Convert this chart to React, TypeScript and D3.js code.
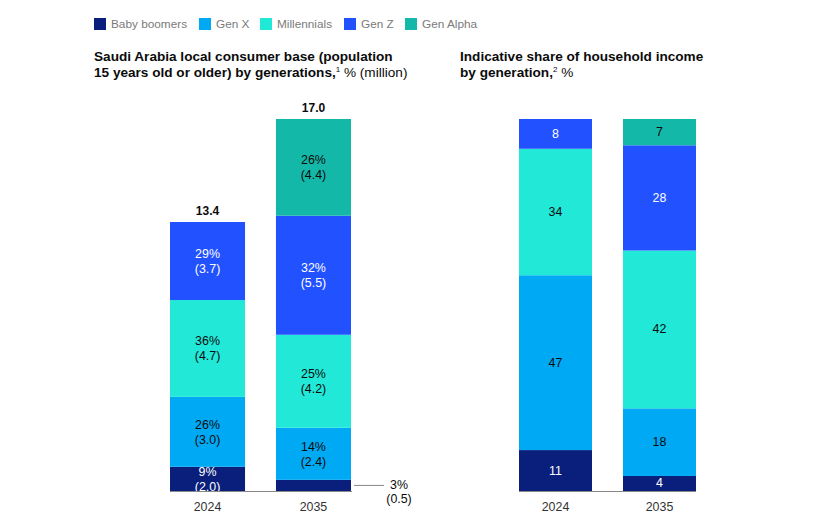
import React from 'react'
import * as d3 from 'd3'

const generations = ['Baby boomers', 'Gen X', 'Millennials', 'Gen Z', 'Gen Alpha']
const colors = ['#0A1F7B', '#00A9F4', '#22E8D8', '#2251FF', '#14B8A8']
const years = ['2024', '2035']

// left panel: share % and million people, boomers first
const basePct = [
  [9, 26, 36, 29],
  [3, 14, 25, 32, 26],
]
const baseMillion = [
  [2.0, 3.0, 4.7, 3.7],
  [0.5, 2.4, 4.2, 5.5, 4.4],
]
const baseTotals = [13.4, 17.0]

// right panel: share of household income %
const incomePct = [
  [11, 47, 34, 8],
  [4, 18, 42, 28, 7],
]

const darkOn = new Set([0, 3])
const font = "'Liberation Sans', Arial, sans-serif"
const ink = '#0b0b0b'

const W = 840
const H = 530
const baseline = 491

interface Seg {
  y0: number
  y1: number
  i: number
}

function stackSegs(vals: number[], top: number, bottom: number): Seg[] {
  const sum = d3.sum(vals)
  const y = d3.scaleLinear().domain([0, sum]).range([bottom, top])
  let acc = 0
  return vals.map((v, i) => {
    const s = { y0: y(acc), y1: y(acc + v), i }
    acc += v
    return s
  })
}

const App: React.FC = () => {
  // source bars are not drawn to a zero-based scale
  const yLeft = d3.scaleLinear().domain([4, 17]).range([baseline, 119])
  const xLeft = d3.scaleBand<string>().domain(years).range([170, 351]).paddingInner(0.292)
  const xRight = d3.scaleBand<string>().domain(years).range([519, 696]).paddingInner(0.298)
  const yRight = d3.scaleLinear().domain([0, 1]).range([baseline, 119])

  const legendX = [94, 199, 260, 344, 405]
  const titleSize = 13.6
  const labelSize = 12.4

  return (
    <svg width={W} height={H} style={{ position: 'absolute', left: 0, top: 0 }} fontFamily={font}>
      <rect width={W} height={H} fill="#fff" />

      {/* legend */}
      {generations.map((g, i) => (
        <g key={g} transform={`translate(${legendX[i]},18)`}>
          <rect width={12} height={12} fill={colors[i]} />
          <text x={17} y={10} fontSize={11.8} fill="#7a7a7a">{g}</text>
        </g>
      ))}

      {/* titles */}
      <text x={94} y={61} fontSize={titleSize} fontWeight="bold" fill={ink}>
        Saudi Arabia local consumer base (population
      </text>
      <text x={94} y={77} fontSize={titleSize} fill={ink}>
        <tspan fontWeight="bold">15 years old or older) by generations,</tspan>
        <tspan fontSize={8} dy={-5}>1</tspan>
        <tspan dy={5}> % (million)</tspan>
      </text>
      <text x={460} y={61} fontSize={titleSize} fontWeight="bold" fill={ink}>
        Indicative share of household income
      </text>
      <text x={460} y={77} fontSize={titleSize} fill={ink}>
        <tspan fontWeight="bold">by generation,</tspan>
        <tspan fontSize={8} dy={-5}>2</tspan>
        <tspan dy={5}> %</tspan>
      </text>

      {/* left panel */}
      {years.map((yr, j) => {
        const x = xLeft(yr)!
        const bw = xLeft.bandwidth()
        const top = yLeft(baseTotals[j])
        const segs = stackSegs(basePct[j], top, baseline)
        return (
          <g key={yr}>
            {segs.map(s => {
              const cy = (s.y0 + s.y1) / 2
              const fill = darkOn.has(s.i) ? '#fff' : ink
              const small = s.y0 - s.y1 < 15
              return (
                <g key={s.i}>
                  <rect x={x} y={s.y1} width={bw} height={s.y0 - s.y1} fill={colors[s.i]} />
                  {!small && (
                    <text x={x + bw / 2} textAnchor="middle" fontSize={labelSize} fill={fill}>
                      <tspan y={cy - 7} dominantBaseline="central">{basePct[j][s.i]}%</tspan>
                      <tspan x={x + bw / 2} y={cy + 8} dominantBaseline="central">
                        ({baseMillion[j][s.i].toFixed(1)})
                      </tspan>
                    </text>
                  )}
                  {small && (
                    <g>
                      <line x1={x + bw + 3} x2={x + bw + 33} y1={cy} y2={cy} stroke="#888" strokeWidth={1} />
                      <text x={399} y={cy} textAnchor="middle" dominantBaseline="central" fontSize={labelSize} fill={ink}>
                        {basePct[j][s.i]}%
                      </text>
                      <text x={399} y={cy + 14} textAnchor="middle" dominantBaseline="central" fontSize={labelSize} fill={ink}>
                        ({baseMillion[j][s.i].toFixed(1)})
                      </text>
                    </g>
                  )}
                </g>
              )
            })}
            <text x={x + bw / 2} y={top - 11} textAnchor="middle" dominantBaseline="central" fontSize={12} fontWeight="bold" fill={ink}>
              {baseTotals[j].toFixed(1)}
            </text>
            <text x={x + bw / 2} y={507} textAnchor="middle" dominantBaseline="central" fontSize={12.4} fill="#333">
              {yr}
            </text>
          </g>
        )
      })}
      <line x1={170} x2={352} y1={baseline + 0.5} y2={baseline + 0.5} stroke="#888" strokeWidth={1} />

      {/* right panel */}
      {years.map((yr, j) => {
        const x = xRight(yr)!
        const bw = xRight.bandwidth()
        const segs = stackSegs(incomePct[j], yRight(1), yRight(0))
        return (
          <g key={yr}>
            {segs.map(s => (
              <g key={s.i}>
                <rect x={x} y={s.y1} width={bw} height={s.y0 - s.y1} fill={colors[s.i]} />
                <text
                  x={x + bw / 2}
                  y={(s.y0 + s.y1) / 2}
                  textAnchor="middle"
                  dominantBaseline="central"
                  fontSize={labelSize}
                  fill={darkOn.has(s.i) ? '#fff' : ink}
                >
                  {incomePct[j][s.i]}
                </text>
              </g>
            ))}
            <text x={x + bw / 2} y={507} textAnchor="middle" dominantBaseline="central" fontSize={12.4} fill="#333">
              {yr}
            </text>
          </g>
        )
      })}
      <line x1={519} x2={696} y1={baseline + 0.5} y2={baseline + 0.5} stroke="#888" strokeWidth={1} />
    </svg>
  )
}

export default App
